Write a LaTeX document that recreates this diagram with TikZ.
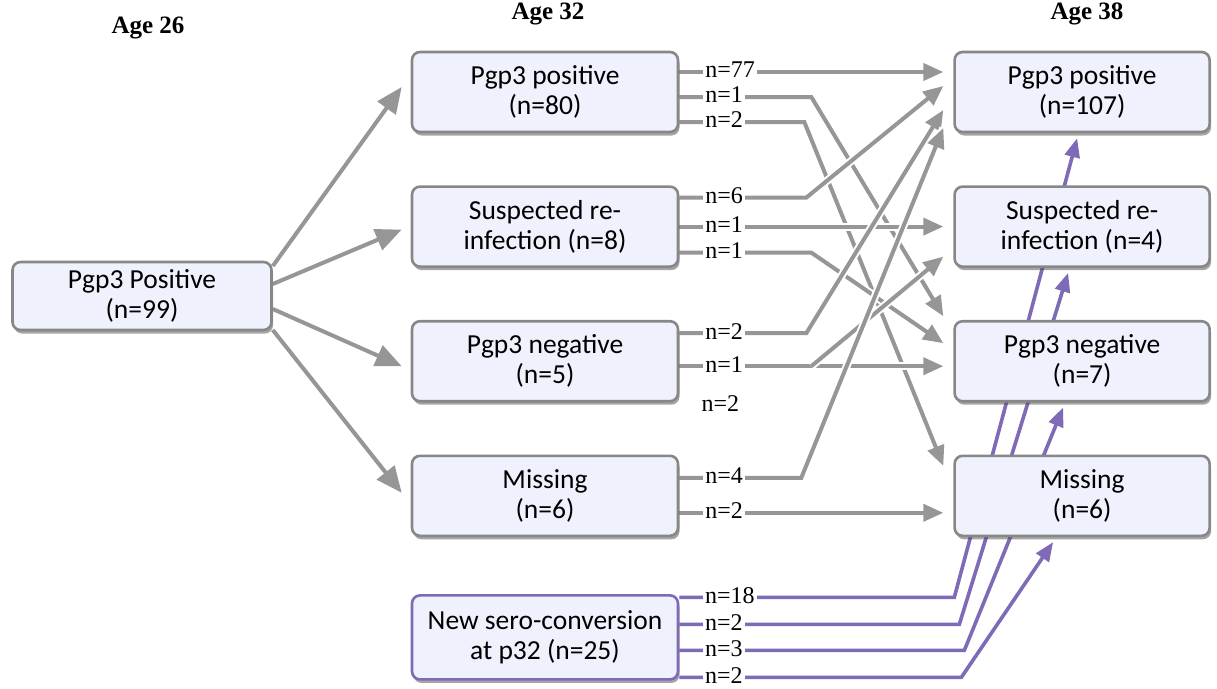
\documentclass[tikz,border=0pt]{standalone}
\usepackage{fontspec}
\setmainfont{Liberation Serif}
\newfontfamily\boxfont{Carlito}
\usepackage{tikz}
\usetikzlibrary{arrows.meta,positioning,shadows}
\usetikzlibrary{calc,backgrounds}

\definecolor{boxfill}{RGB}{239,242,252}
\definecolor{boxline}{RGB}{135,135,135}
\definecolor{flowgray}{RGB}{150,150,150}
\definecolor{flowpurple}{RGB}{126,106,182}

\begin{document}
\begin{tikzpicture}[x=1pt,y=1pt]
	\tikzstyle{box}=[draw=boxline, line width=2.6pt, fill=boxfill, rounded corners=8pt,
	  minimum width=266pt, minimum height=80pt, inner sep=3pt, align=center,
	  font=\boxfont\fontsize{27.5}{30}\selectfont,
	  drop shadow={shadow xshift=1.5pt, shadow yshift=-3.5pt, opacity=.5, fill=black!70}]
	\tikzstyle{box38}=[box, minimum width=255pt]
	\tikzstyle{hdr}=[font=\bfseries\fontsize{25}{25}\selectfont]
	\tikzstyle{lbl}=[anchor=west, yshift=2pt, fill=white, inner xsep=2pt, inner ysep=0pt,
	  font=\fontsize{24}{24}\selectfont, text=black]
	\tikzstyle{bigarrow}=[draw=flowgray, line width=4pt, -{Triangle[length=26pt,width=22pt]}]
	\tikzstyle{gline}=[draw=flowgray, line width=4pt, -{Triangle[length=20pt,width=17pt]},
	  preaction={draw=white, line width=8pt, -}]
	\tikzstyle{pline}=[draw=flowpurple, line width=3.6pt, -{Triangle[length=19pt,width=15pt]}]

	\useasboundingbox (0,0) rectangle (1217,-688);

	% Age 26
	\node[box, minimum width=259pt, minimum height=68pt] (age26) at (142,-296) {Pgp3 Positive\\(n=99)};

	% Age 32
	\node[box] (p32pos) at (545,-92) {Pgp3 positive\\(n=80)};
	\node[box, below=52pt of p32pos] (susp32) {Suspected re-\\infection (n=8)};
	\node[box, below=52pt of susp32] (neg32) {Pgp3 negative\\(n=5)};
	\node[box, below=52pt of neg32] (miss32) {Missing\\(n=6)};
	\node[box, draw=flowpurple, minimum height=84pt, below=57pt of miss32] (new32) {New sero-conversion\\at p32 (n=25)};

	% Age 38
	\node[box38, right=274pt of p32pos] (p38pos) {Pgp3 positive\\(n=107)};
	\node[box38, below=52pt of p38pos] (susp38) {Suspected re-\\infection (n=4)};
	\node[box38, below=52pt of susp38] (neg38) {Pgp3 negative\\(n=7)};
	\node[box38, below=52pt of neg38] (miss38) {Missing\\(n=6)};

	% Annotations
	\node[hdr] (h26) at (148,-28) {Age 26};
	\node[hdr] (h32) at (548,-14) {Age 32};
	\node[hdr] (h38) at (1087,-14) {Age 38};

	\begin{scope}[on background layer]
	\foreach \s/\tgt/\t in {30/p32pos/5,12/susp32/-3,-13/neg32/-5,-34/miss32/3}{
	\draw[bigarrow] ([yshift=\s pt]age26.east) -- ([xshift=-9pt,yshift=\t pt]\tgt.west);
	}

	\draw[gline] ([yshift=20pt]p32pos.east) -- ++(22,0) node[lbl] {n=77} -- ([xshift=-10pt,yshift=20pt]p38pos.west);
	\draw[gline] ([yshift=-5pt]p32pos.east) -- ++(22,0) node[lbl] {n=1} -- ++(110,0) -- ([xshift=-10pt,yshift=45pt]neg38.west);
	\draw[gline] ([yshift=-30pt]p32pos.east) -- ++(22,0) node[lbl] {n=2} -- ++(103,0) -- ([xshift=-10pt,yshift=30pt]miss38.west);

	\draw[gline] ([yshift=29pt]susp32.east) -- ++(22,0) node[lbl] {n=6} -- ++(105,0) -- ([xshift=-10pt,yshift=6pt]p38pos.west);
	\draw[gline] (susp32.east) -- ++(22,0) node[lbl] {n=1} -- ([xshift=-10pt]susp38.west);
	\draw[gline] ([yshift=-26pt]susp32.east) -- ++(22,0) node[lbl] {n=1} -- ++(110,0) -- ([xshift=-10pt,yshift=18pt]neg38.west);

	\draw[gline] ([yshift=28pt]neg32.east) -- ++(22,0) node[lbl] {n=2} -- ++(105,0) -- ([xshift=-10pt,yshift=-18pt]p38pos.west);
	\draw[gline] ([yshift=-5pt]neg32.east) -- ++(22,0) node[lbl] {n=1} -- ++(110,0) coordinate (negfork) -- ([xshift=-10pt,yshift=-5pt]neg38.west);
	\draw[gline] (negfork) -- ([xshift=-10pt,yshift=-30pt]susp38.west);

	\draw[gline] ([yshift=18pt]miss32.east) -- ++(22,0) node[lbl] {n=4} -- ++(100,0) -- ([xshift=-10pt,yshift=-36pt]p38pos.west);
	\draw[gline] ([yshift=-17pt]miss32.east) -- ++(22,0) node[lbl] {n=2} -- ([xshift=-10pt,yshift=-17pt]miss38.west);

	\draw[pline] ([yshift=40pt]new32.east) -- ++(22,0) node[lbl] {n=18} -- ++(253,0) -- ([xshift=-5pt,yshift=-5pt]p38pos.south);
	\draw[pline] ([yshift=13pt]new32.east) -- ++(22,0) node[lbl] {n=2} -- ++(258,0) -- ([xshift=-14pt,yshift=-5pt]susp38.south);
	\draw[pline] ([yshift=-13pt]new32.east) -- ++(22,0) node[lbl] {n=3} -- ++(263,0) -- ([xshift=-19pt,yshift=-5pt]neg38.south);
	\draw[pline] ([yshift=-40pt]new32.east) -- ++(22,0) node[lbl] {n=2} -- ++(260,0) -- ([xshift=-29pt,yshift=-5pt]miss38.south);
	\end{scope}

	\node[lbl] (neg2) at ($(neg32.east)+(20,-44)$) {n=2};

\end{tikzpicture}
\end{document}
